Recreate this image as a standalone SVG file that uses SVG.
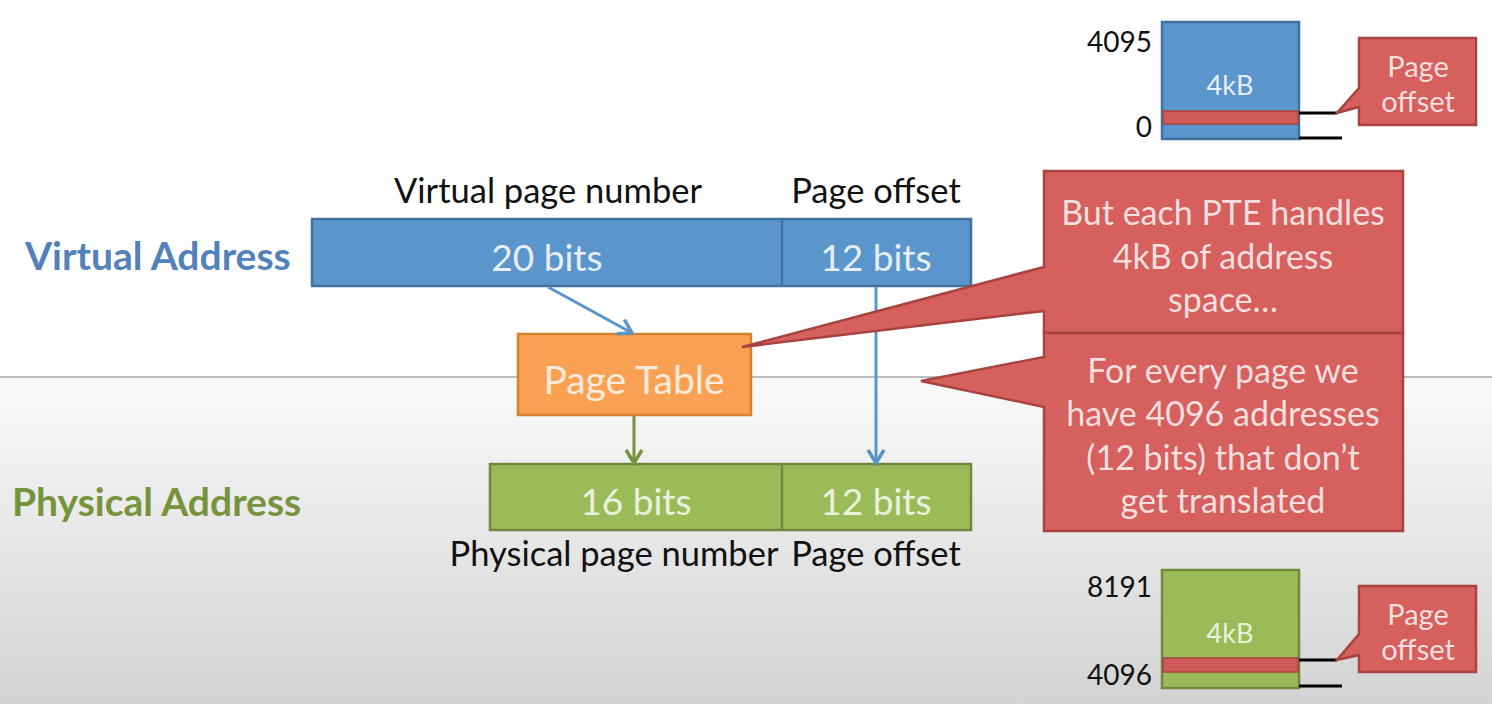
<svg xmlns="http://www.w3.org/2000/svg" width="1492" height="704" viewBox="0 0 1492 704">
<defs>
<linearGradient id="bg" x1="0" y1="0" x2="0" y2="1">
<stop offset="0" stop-color="#fafafa"/>
<stop offset="1" stop-color="#d3d3d3"/>
</linearGradient>
<marker id="ab" markerWidth="22" markerHeight="22" refX="19" refY="11" orient="auto" markerUnits="userSpaceOnUse" viewBox="0 0 22 22">
<path d="M6,3 L19,11 L6,19" fill="none" stroke="#5b94cb" stroke-width="3.5"/>
</marker>
<marker id="ag" markerWidth="22" markerHeight="22" refX="19" refY="11" orient="auto" markerUnits="userSpaceOnUse" viewBox="0 0 22 22">
<path d="M6,3 L19,11 L6,19" fill="none" stroke="#77933c" stroke-width="3.5"/>
</marker>
</defs>
<style>
text{font-family:Lato,"Open Sans","Liberation Sans",sans-serif}
.lbl{font-size:34.5px;fill:#111}
.num{font-size:28px;fill:#111;text-anchor:end}
.in{font-size:37px;text-anchor:middle}
.blue{fill:#5a96cc;stroke:#41719c;stroke-width:2.5}
.green{fill:#9bbb59;stroke:#71893f;stroke-width:2.5}
.red{fill:#d5605d;stroke:#a84340;stroke-width:2.5}
.redt{fill:#f4dede;font-size:34px;text-anchor:middle}
.small{font-size:29px}
.conn{fill:none;stroke-width:3}
</style>
<rect x="0" y="0" width="1492" height="377" fill="#ffffff"/>
<rect x="0" y="377" width="1492" height="327" fill="url(#bg)"/>
<line x1="0" y1="377" x2="1492" y2="377" stroke="#a6a6a6" stroke-width="1.5"/>

<g id="virtual-label">
<text x="25" y="270" font-size="39" font-weight="bold" fill="#5281bb">Virtual Address</text>
</g>
<g id="physical-label">
<text x="12" y="516" font-size="39" font-weight="bold" fill="#77933c">Physical Address</text>
</g>

<g id="virtual-address">
<rect class="blue" x="312" y="219" width="659" height="67"/>
<line x1="782" y1="219" x2="782" y2="286" stroke="#41719c" stroke-width="2.5"/>
<text class="in" x="547" y="271" fill="#e8eef7">20 bits</text>
<text class="in" x="876" y="271" fill="#e8eef7">12 bits</text>
<text class="lbl" x="548" y="203" text-anchor="middle">Virtual page number</text>
<text class="lbl" x="876" y="203" text-anchor="middle">Page offset</text>
</g>

<g id="page-table">
<rect x="518" y="334" width="233" height="81" fill="#f9a052" stroke="#d3822e" stroke-width="2.5"/>
<text x="634" y="394" font-size="39" text-anchor="middle" fill="#fdebdc">Page Table</text>
</g>

<g id="physical-address">
<rect class="green" x="490" y="464" width="481" height="66"/>
<line x1="782" y1="464" x2="782" y2="530" stroke="#71893f" stroke-width="2.5"/>
<text class="in" x="636" y="515" fill="#ebf1de">16 bits</text>
<text class="in" x="876" y="515" fill="#ebf1de">12 bits</text>
<text class="lbl" x="614" y="566" text-anchor="middle">Physical page number</text>
<text class="lbl" x="876" y="566" text-anchor="middle">Page offset</text>
</g>

<g id="connectors">
<line class="conn" x1="548" y1="287" x2="632" y2="333" stroke="#5b94cb" marker-end="url(#ab)"/>
<line class="conn" x1="876" y1="287" x2="876" y2="463" stroke="#5b94cb" marker-end="url(#ab)"/>
<line class="conn" x1="634" y1="416" x2="634" y2="463" stroke="#77933c" marker-end="url(#ag)"/>
</g>

<g id="callout-pte">
<path class="red" d="M1044,171 H1403 V333 H1044 V311 L742,347 L1044,267 Z"/>
<text class="redt" x="1223" y="225">But each PTE handles</text>
<text class="redt" x="1223" y="269">4kB of address</text>
<text class="redt" x="1223" y="312">space…</text>
</g>
<g id="callout-offset">
<path class="red" d="M1044,333 H1403 V531 H1044 V407 L921,381 L1044,357 Z"/>
<text class="redt" x="1223" y="383">For every page we</text>
<text class="redt" x="1223" y="426">have 4096 addresses</text>
<text class="redt" x="1223" y="470">(12 bits) that don’t</text>
<text class="redt" x="1223" y="513">get translated</text>
</g>

<g id="virtual-page">
<rect class="blue" x="1162" y="22" width="137" height="117"/>
<rect x="1163" y="111" width="135" height="13" fill="#cf5a57" stroke="#a84340" stroke-width="1.5"/>
<text x="1230" y="95" font-size="27" text-anchor="middle" fill="#e8eef7">4kB</text>
<text class="num" x="1152" y="52">4095</text>
<text class="num" x="1152" y="137">0</text>
<line x1="1299" y1="113" x2="1337" y2="113" stroke="#000" stroke-width="3"/>
<line x1="1299" y1="138" x2="1342" y2="138" stroke="#000" stroke-width="3"/>
</g>
<g id="callout-page-offset-top">
<path class="red" d="M1359,38 H1476 V125 H1359 V107 L1337,113 L1359,88 Z"/>
<text class="redt small" x="1418" y="77">Page</text>
<text class="redt small" x="1418" y="112">offset</text>
</g>

<g id="physical-page">
<rect class="green" x="1162" y="570" width="137" height="118"/>
<rect x="1163" y="658" width="135" height="14" fill="#cf5a57" stroke="#a84340" stroke-width="1.5"/>
<text x="1230" y="643" font-size="27" text-anchor="middle" fill="#ebf1de">4kB</text>
<text class="num" x="1152" y="597">8191</text>
<text class="num" x="1152" y="685">4096</text>
<line x1="1299" y1="660" x2="1337" y2="660" stroke="#000" stroke-width="3"/>
<line x1="1299" y1="686" x2="1342" y2="686" stroke="#000" stroke-width="3"/>
</g>
<g id="callout-page-offset-bottom">
<path class="red" d="M1359,586 H1476 V672 H1359 V655 L1337,660 L1359,634 Z"/>
<text class="redt small" x="1418" y="625">Page</text>
<text class="redt small" x="1418" y="660">offset</text>
</g>
</svg>
